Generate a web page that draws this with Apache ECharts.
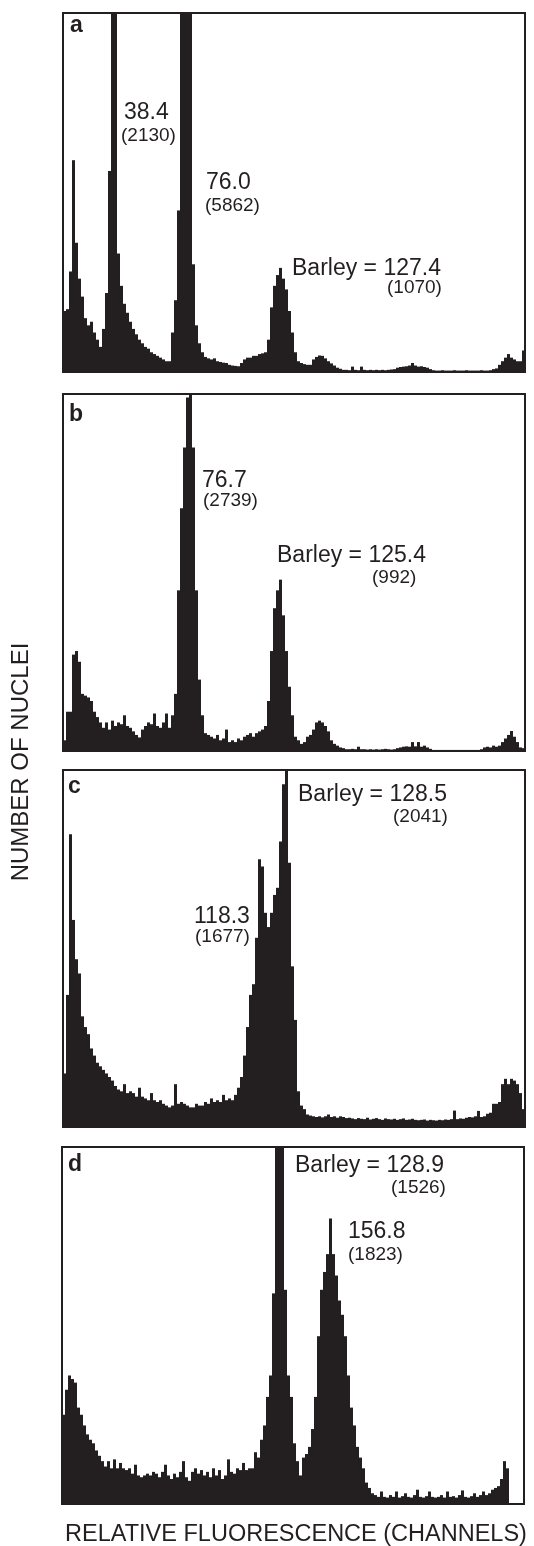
<!doctype html>
<html lang="en">
<head>
	<title>Nuclear DNA content histograms</title>
	<meta charset="utf-8" />
	<script src="https://cdn.jsdelivr.net/npm/echarts@6/dist/echarts.min.js"></script>
	<style>
		html, body { margin: 0; padding: 0; background: #fff; }
		#main { width: 534px; height: 1546px; }
	</style>
</head>

<body>
	<div id="main"></div>
	<script>
		// relative peak height per 3-px channel bin (100 = top of the frame, peaks above are clipped)
		var countsA = [
			17, 17.5, 28, 59, 36, 26, 21, 15, 13, 14,
			11, 9, 7, 12, 22, 56, 100, 100, 33, 24,
			19, 16.5, 14, 12, 10.5, 9, 8, 7, 6.5, 5.5,
			5, 4.5, 4, 3.5, 3, 3, 11, 20, 45, 100,
			100, 100, 100, 30, 13, 8, 5.5, 4.2, 3.8, 3.5,
			3.8, 3, 2.8, 2.6, 2.5, 2, 1.8, 1.7, 1.6, 2.5,
			3.5, 4, 4, 4.5, 4.5, 5, 5.2, 5.5, 9, 18,
			24, 27, 29, 26, 23, 17, 11, 5.5, 3, 2.5,
			2.2, 2, 2, 3.5, 4.2, 4.6, 4.5, 3.8, 3, 2.4,
			1.8, 1.2, 0.9, 0.6, 0.6, 0.5, 1.5, 0.6, 0.5, 1.5,
			0.6, 0.5, 0.6, 0.5, 0.6, 0.5, 0.6, 0.5, 0.6, 0.7,
			0.8, 1.2, 1.4, 1.5, 1.6, 1.8, 2.5, 1.8, 1.5, 1.6,
			1.4, 1.2, 0.8, 0.5, 0.4, 0.4, 0.5, 0.4, 0.4, 0.4,
			0.5, 0.4, 0.4, 0.4, 0.5, 0.4, 0.4, 0.4, 0.4, 0.5,
			0.4, 0.4, 0.5, 0.8, 1, 2, 3, 4, 5, 4,
			3.5, 3, 3, 6
		];
		var countsB = [
			3, 11, 11, 27, 28, 25, 16, 15.5, 15, 14,
			11, 9.5, 8, 6.5, 8, 6, 8.5, 7, 8, 7.5,
			10, 7, 6.5, 5.5, 4.5, 3.8, 6, 7, 8, 7.5,
			10.5, 7, 6.5, 8, 10.5, 6.5, 10, 16, 45, 68,
			85, 99, 100, 85, 45, 20, 10, 5, 4.5, 4,
			3.5, 4.5, 3, 3.5, 6, 2.5, 3, 2.5, 3.5, 3,
			4, 4.5, 5, 4, 5, 5.5, 6, 7, 14, 28,
			40, 45, 48, 38, 28, 18, 10, 4, 3, 2,
			2.5, 4, 4.5, 6, 8, 8.5, 8, 7, 5.5, 3,
			2, 1.5, 1, 0.8, 0.5, 0.5, 0.6, 0.5, 1.2, 0.5,
			0.5, 0.4, 0.5, 0.4, 0.5, 0.4, 0.5, 0.6, 0.5, 0.4,
			0.5, 0.8, 1, 1.2, 1.3, 1.2, 2.5, 1.3, 2.5, 1.2,
			1.5, 1, 0.6, 0.3, 0.3, 0.3, 0.3, 0.3, 0.3, 0.3,
			0.3, 0.3, 0.3, 0.3, 0.3, 0.3, 0.3, 0.3, 0.3, 0.5,
			1, 1.2, 1, 1.5, 1.2, 1.5, 2.5, 3.5, 4.5, 5.6,
			4, 2.5, 1, 0.8
		];
		var countsC = [
			15, 37, 82, 58, 47, 43, 31, 28, 26, 22,
			20, 18, 17, 16, 15, 14, 13, 11.5, 10.5, 10,
			12, 9.5, 10, 9.5, 8.5, 11, 8.5, 8, 7.5, 9.5,
			7.5, 7, 7.5, 6.5, 6, 5.5, 6, 12, 6.5, 7,
			6.5, 6, 5.5, 5.5, 6.5, 6, 6, 7, 6.5, 8,
			7, 7.5, 7, 9, 7.5, 8, 7.5, 9, 11, 14,
			20, 28, 37, 40, 53, 75, 73, 60, 56, 60,
			65, 67, 80, 96, 100, 74, 45, 30, 10, 6,
			5, 3.5, 3.2, 3, 2.8, 3, 2.7, 3, 3.5, 2.8,
			3, 2.6, 3, 2.8, 2.5, 2.6, 2.4, 2.2, 2.5, 2.3,
			2.2, 2.6, 2.1, 2.3, 2.5, 2.2, 2, 2.4, 2.2, 2.1,
			2.3, 2, 2.2, 2.4, 2, 2.1, 2.3, 2, 1.9, 2,
			2.1, 1.8, 2, 1.9, 1.8, 2, 1.9, 2.1, 2, 2.2,
			4.6, 2.2, 2.4, 2.3, 2.6, 2.8, 2.7, 3, 4.5, 2.8,
			3, 3.7, 4, 6.5, 6.5, 7, 12, 13.5, 12, 13.5,
			13, 12, 9.5, 5
		];
		var countsD = [
			25, 32, 36, 35, 34, 27, 25, 22, 19.5, 18,
			17, 15, 13.5, 12, 10.5, 12, 10, 12.5, 10, 11.5,
			10, 9.5, 10, 8.5, 11, 8, 7.5, 8, 8.5, 8,
			9, 8.5, 7.5, 9, 11, 8, 7, 8.5, 7.5, 9,
			12, 7.5, 6.5, 9, 10, 8.5, 9.5, 8, 9, 7.5,
			10, 8, 9.5, 7, 8, 12.5, 9, 8.5, 10, 9.5,
			11.5, 9.5, 10, 10, 14.5, 13, 18, 22, 30, 36,
			59, 100, 100, 100, 60, 36, 30, 17, 12, 8,
			13, 14, 16, 21, 30, 47, 60, 65, 70, 80,
			70, 64, 57, 53, 47, 36, 27, 22, 16, 13,
			10, 6, 4.5, 3, 2.5, 2, 3.5, 2, 1.8, 2.5,
			2, 3.5, 1.8, 2.2, 3, 2, 1.8, 2.5, 4, 2,
			1.8, 2.2, 3.5, 2, 1.8, 2, 2.5, 1.8, 3.5, 2,
			2.2, 1.8, 2.5, 3.8, 2, 1.8, 2.2, 3, 2, 2.5,
			3.5, 2.5, 3, 4, 4.5, 5, 7, 12, 10, 0,
			0, 0, 0, 0
		];

		var panelLetters = ['a', 'b', 'c', 'd'];
		var peakValues = [
			['38.4', '76.0', 'Barley = 127.4'],
			['76.7', 'Barley = 125.4'],
			['Barley = 128.5', '118.3'],
			['Barley = 128.9', '156.8']
		];
		var peakCounts = [
			['(2130)', '(5862)', '(1070)'],
			['(2739)', '(992)'],
			['(2041)', '(1677)'],
			['(1526)', '(1823)']
		];
		var xTitle = 'RELATIVE FLUORESCENCE (CHANNELS)';
		var yTitle = 'NUMBER OF NUCLEI';

		var ink = '#231f20';
		var family = '"Liberation Sans", Arial, Helvetica, sans-serif';

		// frame of each panel, in px
		var frames = [
			{left: 63, top: 13, width: 462, height: 359},
			{left: 63, top: 394, width: 462, height: 357},
			{left: 63, top: 770, width: 462, height: 357},
			{left: 62, top: 1147, width: 462, height: 357}
		];
		// where the value / count labels sit (left x, middle y)
		var valuePos = [
			[[124, 113], [206, 183], [292, 269]],
			[[202, 481], [277, 556]],
			[[298, 795], [194, 917]],
			[[295, 1166], [348, 1232]]
		];
		var countPos = [
			[[121, 136], [205, 206], [387, 288]],
			[[203, 501], [372, 578]],
			[[393, 817], [195, 937]],
			[[391, 1188], [348, 1255]]
		];
		var letterPos = [[70, 26], [69, 415], [68, 787], [68, 1165]];

		function txt(str, x, y, size, extra) {
			var st = {
				text: str, fill: ink, fontSize: size, fontFamily: family,
				align: 'left', verticalAlign: 'middle'
			};
			for (var k in extra) st[k] = extra[k];
			return {type: 'text', x: x, y: y, silent: true, style: st};
		}

		var allCounts = [countsA, countsB, countsC, countsD];
		var channels = countsA.map(function (v, i) { return i; });

		var grids = [], xAxes = [], yAxes = [], series = [], graphics = [];
		allCounts.forEach(function (counts, p) {
			grids.push({
				left: frames[p].left, top: frames[p].top,
				width: frames[p].width, height: frames[p].height,
				show: true, borderColor: ink, borderWidth: 2,
				backgroundColor: 'transparent', containLabel: false
			});
			xAxes.push({type: 'category', gridIndex: p, data: channels, show: false, boundaryGap: true});
			yAxes.push({type: 'value', gridIndex: p, min: 0, max: 100, show: false});
			series.push({
				type: 'bar', xAxisIndex: p, yAxisIndex: p, data: counts,
				barCategoryGap: '0%', barGap: '0%', silent: true,
				itemStyle: {color: ink}
			});
			graphics.push(txt(panelLetters[p], letterPos[p][0], letterPos[p][1], 23, {fontWeight: 'bold'}));
			peakValues[p].forEach(function (s, j) {
				graphics.push(txt(s, valuePos[p][j][0], valuePos[p][j][1], 23));
				graphics.push(txt(peakCounts[p][j], countPos[p][j][0], countPos[p][j][1], 19));
			});
		});

		graphics.push(txt(xTitle, 296, 1535, 23.5, {align: 'center'}));
		graphics.push({
			type: 'text', x: 21, y: 762, rotation: Math.PI / 2, silent: true,
			style: {text: yTitle, fill: ink, fontSize: 24, fontFamily: family, align: 'center', verticalAlign: 'middle'}
		});

		var myChart = echarts.init(document.getElementById('main'), null, {renderer: 'canvas'});
		myChart.setOption({
			animation: false,
			backgroundColor: '#fff',
			grid: grids,
			xAxis: xAxes,
			yAxis: yAxes,
			series: series,
			graphic: graphics
		});
	</script>
</body>
</html>
